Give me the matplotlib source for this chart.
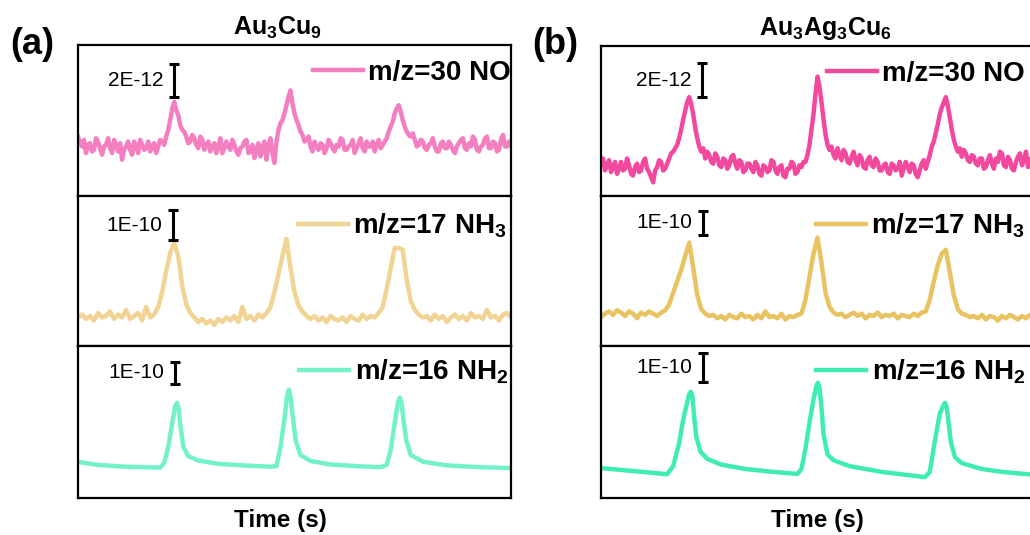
import numpy as np
import matplotlib.pyplot as plt

plt.rcParams['font.family'] = ['Liberation Sans', 'DejaVu Sans']
plt.rcParams['mathtext.fontset'] = 'custom'
plt.rcParams['mathtext.rm'] = 'Liberation Sans'
plt.rcParams['mathtext.bf'] = 'Liberation Sans:bold'
plt.rcParams['mathtext.it'] = 'Liberation Sans:italic'

# time (s, arbitrary) for the noisy traces
t = np.arange(109)
t_fine = np.arange(217) * 0.5

# ---- (a) Au3Cu9 ----
# m/z=30 NO, units of 1E-12, sampled every 0.5
no_a = [3.6, 3.2, 3.0, 3.4, 2.6, 3.1, 3.2, 2.7, 2.8, 3.5, 3.3, 2.9, 2.5, 3.0, 3.1, 3.5, 2.9, 2.6, 3.4, 3.1,
        2.7, 3.2, 2.2, 2.8, 3.0, 3.3, 2.8, 2.5, 3.3, 3.0, 2.6, 3.4, 3.1, 2.8, 2.9, 3.3, 2.7, 3.0, 3.2, 2.6,
        3.0, 3.4, 3.3, 3.1,
        3.6, 4.0, 4.6, 5.3, 5.7, 5.2, 4.9, 4.3, 4.0, 3.9, 3.6, 3.2, 3.3, 3.7,
        3.5, 3.1, 2.9, 3.6, 3.4, 2.8, 3.1, 3.3, 2.7, 3.0, 3.2, 2.6, 3.0, 3.5, 2.6, 2.9, 3.3, 3.0, 2.8, 3.4,
        3.1, 2.7, 2.5, 2.9, 3.0, 3.3, 3.4, 2.6, 2.7, 3.1, 2.3, 2.8, 3.2, 2.4, 2.9, 3.3,
        2.2, 3.0, 3.5, 2.6, 2.0, 3.3, 4.0, 4.4, 4.6, 5.0, 5.5, 6.0, 6.4, 5.6, 5.0, 4.6, 4.3, 3.9, 3.7, 3.3,
        3.4, 3.6, 3.0, 2.7, 3.3, 3.0, 2.8, 3.2, 3.1, 2.6, 2.9, 3.4, 3.2, 2.9, 2.7, 3.1, 3.0, 3.5, 3.4, 2.8,
        2.8, 3.0, 3.1, 3.4, 2.6, 2.9, 3.2, 3.5, 2.9, 2.7, 3.3, 3.0, 3.0, 3.3, 2.7, 3.1, 3.4, 2.9, 3.1, 3.3,
        3.5, 3.9, 4.2, 4.5, 5.0, 5.3, 5.5, 5.1, 4.6, 4.2, 3.9, 3.7, 3.6, 3.8, 3.4, 3.0,
        3.1, 3.4, 3.3, 2.9, 2.8, 3.1, 3.2, 3.5, 3.0, 2.7, 2.7, 3.2, 3.3, 2.9, 2.9, 3.3, 3.1, 2.8, 2.6, 3.0,
        3.2, 3.4, 3.5, 2.9, 2.8, 3.2, 3.0, 3.6, 3.4, 2.8, 2.7, 3.0, 3.1, 3.5, 3.6, 2.9, 2.9, 3.3, 3.2, 2.7,
        2.8, 3.4, 3.7, 3.0, 3.0, 3.3, 3.1]
# m/z=17 NH3, units of 1E-10
nh3_a = [0.95, 1.05, 0.9, 1.0, 0.85, 1.1, 0.95, 1.0, 1.15, 0.9, 1.05, 0.95, 1.2, 0.9, 1.0, 1.1, 0.85, 1.3, 0.95, 1.05,
         1.3, 1.8, 2.5, 3.1, 3.43, 3.0, 2.0, 1.4, 1.1, 0.95,
         0.8, 0.9, 0.75, 0.85, 0.7, 0.9, 0.8, 0.95, 0.85, 1.0, 0.8, 1.3, 0.9, 1.0, 0.85, 1.05, 0.95, 1.1,
         1.3, 1.8, 2.4, 3.0, 3.57, 2.6, 1.8, 1.35, 1.15, 1.0,
         0.9, 1.0, 0.85, 0.95, 0.8, 1.0, 0.9, 0.85, 0.95, 0.8, 1.0, 0.9, 0.85, 1.05, 0.9, 1.0, 0.95, 1.1,
         1.3, 1.9, 2.6, 3.27, 3.27, 3.2, 2.2, 1.5, 1.2, 1.05,
         0.95, 1.0, 0.85, 1.05, 0.9, 1.0, 0.8, 0.95, 1.05, 0.9, 1.0, 0.85, 1.1, 0.95, 1.0, 0.9, 1.2, 0.95, 1.0, 0.85, 1.05, 1.1, 0.95]
# m/z=16 NH2, units of 1E-10 (smooth, read at key times)
nh2_a_t = [0, 5, 12, 20.5, 21.5, 22.5, 23.5, 24.2, 24.7, 25.1, 25.6, 26.3, 27.5, 30, 35, 42, 48,
           49.5, 50.5, 51.5, 52.1, 52.6, 53.0, 53.5, 54.3, 55.5, 58, 63, 70, 75.5,
           77, 78, 79, 79.8, 80.3, 80.7, 81.2, 81.9, 83, 86, 92, 100, 108]
nh2_a = [1.64, 1.5, 1.42, 1.38, 1.6, 2.3, 3.4, 4.15, 4.32, 4.05, 3.2, 2.3, 1.9, 1.7, 1.55, 1.47, 1.42,
         1.45, 2.3, 3.6, 4.6, 4.91, 4.6, 3.8, 2.6, 1.95, 1.68, 1.52, 1.44, 1.4,
         1.5, 2.2, 3.4, 4.35, 4.55, 4.3, 3.5, 2.6, 1.95, 1.65, 1.48, 1.4, 1.36]

# ---- (b) Au3Ag3Cu6 ----
no_b = [1.9, 2.2, 1.5, 1.8, 2.1, 1.4, 1.7, 2.0, 1.3, 1.6, 2.0, 1.5, 1.6, 2.2, 1.8, 1.3, 1.2, 1.7, 1.9, 1.4,
        1.5, 2.0, 2.2, 1.6, 1.4, 1.1, 0.8, 1.5, 1.7, 2.1, 2.0, 1.5, 1.6, 1.9,
        2.2, 2.5, 2.6, 2.8, 3.0, 3.4, 3.9, 4.5, 5.0, 5.5, 5.8, 5.4, 4.8, 4.0, 3.4, 2.9, 2.6, 2.8, 2.2, 2.6,
        2.4, 2.0,
        1.9, 2.5, 2.3, 1.8, 1.7, 2.2, 2.1, 1.6, 1.8, 2.3, 2.4, 1.9, 1.6, 2.1, 2.0, 1.4, 1.5, 1.9, 1.9, 1.6,
        1.4, 2.0, 1.8, 1.3, 1.2, 1.8, 1.7, 1.4, 1.5, 2.1, 2.0, 1.5, 1.3, 1.7, 1.8, 1.2, 1.1, 1.6, 1.6, 2.0,
        1.9, 1.3, 1.4, 1.8, 1.7, 2.0,
        2.0, 2.4, 3.0, 3.9, 4.8, 6.0, 7.0, 6.4, 5.5, 4.5, 3.6, 3.0, 2.7, 2.9, 2.4, 2.2, 2.8, 2.4,
        2.1, 2.7, 2.5, 2.0, 1.9, 2.3, 2.6, 2.1, 1.8, 2.4, 2.2, 1.7, 1.6, 2.1, 2.3, 1.8, 1.7, 2.2, 2.0, 1.5,
        1.5, 1.8, 1.9, 1.4, 1.3, 1.9, 1.8, 1.5, 1.6, 2.0, 1.2, 1.6, 2.0, 1.7, 1.4, 1.9, 1.8, 1.3, 1.1, 1.5,
        1.9, 2.1, 1.6, 2.0,
        2.4, 2.9, 3.2, 3.7, 4.2, 4.8, 5.2, 5.5, 5.8, 5.3, 4.6, 3.9, 3.3, 2.9, 2.6, 2.8, 2.3, 2.7,
        2.5, 2.1, 2.0, 2.4, 2.3, 1.9, 1.8, 2.2, 2.2, 1.6, 1.7, 2.1, 2.4, 1.9, 1.6, 2.2, 2.0, 2.6, 2.5, 1.8,
        1.7, 2.3, 2.1, 1.6, 1.5, 2.0, 2.3, 2.5, 1.8, 2.1, 2.6, 1.7, 1.9, 2.4, 2.2]
nh3_b = [1.25, 1.4, 1.5, 1.35, 1.55, 1.45, 1.3, 1.5, 1.4, 1.2, 1.45, 1.35, 1.5, 1.4, 1.3, 1.45, 1.55,
         1.8, 2.3, 2.8, 3.3, 3.9, 4.48, 3.4, 2.2, 1.6, 1.4, 1.3,
         1.35, 1.2, 1.3, 1.15, 1.35, 1.25, 1.2, 1.4, 1.25, 1.3, 1.15, 1.35, 1.2, 1.5, 1.25, 1.3, 1.2, 1.4, 1.15, 1.3, 1.25, 1.35, 1.4,
         2.0, 3.0, 4.0, 4.7, 3.6, 2.3, 1.7, 1.45, 1.35,
         1.4, 1.25, 1.35, 1.45, 1.3, 1.4, 1.2, 1.35, 1.3, 1.45, 1.25, 1.35, 1.3, 1.4, 1.2, 1.35, 1.3, 1.25, 1.4, 1.3, 1.45, 1.5,
         2.0, 2.8, 3.5, 4.0, 4.17, 3.2, 2.2, 1.6, 1.4,
         1.35, 1.25, 1.3, 1.2, 1.35, 1.15, 1.3, 1.25, 1.1, 1.3, 1.2, 1.35, 1.25, 1.15, 1.3, 1.2, 1.35, 1.25]
nh2_b_t = [0, 8, 16.5, 18, 19.5, 20.5, 21.5, 22.0, 22.4, 22.8, 23.3, 23.8, 24.8, 26.5, 30, 36, 43,
           49, 50, 51, 52, 53, 53.7, 54.1, 54.5, 55.0, 55.5, 56.5, 58, 62, 70, 76,
           80.8, 82, 83.3, 84.5, 85.4, 85.8, 86.2, 86.7, 87.3, 88.3, 90, 95, 100, 108]
nh2_b = [1.03, 0.93, 0.82, 1.1, 1.9, 2.7, 3.3, 3.58, 3.66, 3.5, 2.7, 2.1, 1.6, 1.35, 1.15, 1.0, 0.9,
         0.83, 1.0, 1.7, 2.6, 3.4, 3.85, 3.97, 3.8, 3.1, 2.2, 1.5, 1.3, 1.1, 0.9, 0.8,
         0.72, 0.9, 2.0, 2.9, 3.2, 3.28, 3.15, 2.6, 1.9, 1.4, 1.2, 1.0, 0.9, 0.8]

labels = ['m/z=30 NO', r'm/z=17 NH$_\mathbf{3}$', r'm/z=16 NH$_\mathbf{2}$']
scales = [2, 1, 1]
scale_txt = ['2E-12', '1E-10', '1E-10']

panels = [
    dict(tag='(a)', title=r'Au$_\mathbf{3}$Cu$_\mathbf{9}$', left=78, right=511, top=45,
         tcx=277, xcx=280, tagx=32, leg_dx=[0, -4, -3],
         data=[(t_fine, no_a), (t, nh3_a), (nh2_a_t, nh2_a)],
         colors=['#F47FC0', '#F1D393', '#72F1CB'],
         ylims=[9.15, 5.0, 6.9], bar_y=[6.0, 3.53, 5.18], bar_x=[23.9, 23.7, 24.2]),
    dict(tag='(b)', title=r'Au$_\mathbf{3}$Ag$_\mathbf{3}$Cu$_\mathbf{6}$', left=601, right=1034, top=46,
         tcx=825, xcx=817, tagx=555, leg_dx=[-9, -9, -9],
         data=[(t_fine, no_b), (t, nh3_b), (nh2_b_t, nh2_b)],
         colors=['#F2489E', '#E9C262', '#3FEDB4'],
         ylims=[8.8, 6.5, 5.24], bar_y=[5.8, 4.83, 4.0], bar_x=[25.2, 25.4, 25.4]),
]
leg_dy = [15, 16, 12]

W, H = 1030, 535
fig = plt.figure(figsize=(W / 100, H / 100), dpi=100)
rows = [(None, 196), (196, 346), (346, 498)]

for p in panels:
    pw = p['right'] - p['left']
    for i in range(3):
        top = p['top'] if i == 0 else rows[i][0]
        bot = rows[i][1]
        ax = fig.add_axes([p['left'] / W, 1 - bot / H, pw / W, (bot - top) / H])
        x, y = p['data'][i]
        ax.plot(x, y, color=p['colors'][i], lw=3.2, label=labels[i])
        ax.set_xlim(0, 108)
        ax.set_ylim(0, p['ylims'][i])
        ax.set_xticks([])
        ax.set_yticks([])
        for s in ax.spines.values():
            s.set_linewidth(1.6)
        # scale bar
        h = scales[i]
        ax.errorbar(p['bar_x'][i], p['bar_y'][i] + h / 2, yerr=h / 2, color='k',
                    elinewidth=2.2, capsize=3.5, capthick=2.2)
        ax.text(p['bar_x'][i] - 2.6, p['bar_y'][i] + h / 2, scale_txt[i], fontsize=15,
                ha='right', va='center')
        ax.legend(loc='upper right', frameon=False, handlelength=1.8,
                  handletextpad=0.2, borderaxespad=0, borderpad=0,
                  bbox_to_anchor=(1 + p['leg_dx'][i] / pw, 1 - leg_dy[i] / (bot - top)),
                  prop={'weight': 'bold', 'size': 20})
    fig.text(p['tcx'] / W, 1 - 28 / H, p['title'], fontsize=18, fontweight='bold',
             ha='center', va='center')
    fig.text(p['tagx'] / W, 1 - 45 / H, p['tag'], fontsize=26, fontweight='bold',
             ha='center', va='center')
    fig.text(p['xcx'] / W, 1 - 520 / H, 'Time (s)', fontsize=17.5, fontweight='bold',
             ha='center', va='center')

fig.savefig('out.png', dpi=100)
